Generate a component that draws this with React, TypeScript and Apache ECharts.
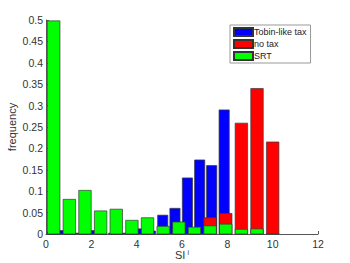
import React, { useEffect, useRef } from "react";
import * as echarts from "echarts";

// Bin centres (x)
const tobinCenters = [0.29, 0.83, 1.37, 1.91, 2.45, 2.99, 3.53, 4.07, 4.61, 5.15, 5.69, 6.24, 6.78, 7.31, 7.86];
const tobinValues = [0.005, 0.008, 0.002, 0.008, 0.005, 0.002, 0.002, 0.012, 0.007, 0.044, 0.06, 0.131, 0.173, 0.16, 0.29];

const srtCenters = [0.34, 1.03, 1.72, 2.41, 3.1, 3.79, 4.48, 5.17, 5.86, 6.55, 7.24, 7.93, 8.62, 9.31, 10.0];
const noTaxValues = [0, 0, 0, 0, 0, 0, 0, 0, 0, 0, 0.038, 0.048, 0.259, 0.34, 0.215];
const srtValues = [0.498, 0.081, 0.102, 0.054, 0.058, 0.032, 0.038, 0.018, 0.028, 0.016, 0.019, 0.023, 0.011, 0.012, 0.001];

const seriesNames = ["Tobin-like tax", "no tax", "SRT"];
const seriesColors = ["#0000ff", "#ff0000", "#00ff00"];

const xTicks = { min: 0, max: 12, interval: 2 };
const yTicks = { min: 0, max: 0.5, interval: 0.05 };

function makeSeries(name: string, color: string, centers: number[], values: number[], barW: number, z: number) {
  return {
    name,
    type: "custom",
    z,
    itemStyle: { color, borderColor: "#333", borderWidth: 0.7 },
    data: centers.map((c, i) => [c, values[i]]),
    renderItem: (params: any, api: any) => {
      const x = api.value(0);
      const y = api.value(1);
      const p0 = api.coord([x - barW / 2, y]);
      const p1 = api.coord([x + barW / 2, 0]);
      return {
        type: "rect",
        shape: { x: p0[0], y: p0[1], width: p1[0] - p0[0], height: p1[1] - p0[1] },
        style: { fill: color, stroke: "#3a3a3a", lineWidth: 0.7 },
      };
    },
  };
}

export default function App() {
  const ref = useRef<HTMLDivElement>(null);
  useEffect(() => {
    if (!ref.current) return;
    const chart = echarts.init(ref.current, null, { renderer: "svg" });
    const font = "Liberation Sans, Arial, sans-serif";
    chart.setOption({
      animation: false,
      backgroundColor: "#fff",
      textStyle: { fontFamily: font },
      grid: { left: 46, right: 32, top: 20, bottom: 29, containLabel: false, outerBoundsMode: "none" },
      legend: {
        orient: "vertical",
        left: 230,
        top: 25,
        data: seriesNames,
        icon: "rect",
        itemWidth: 19,
        itemHeight: 8,
        itemGap: 2,
        padding: [2, 4, 2, 3],
        borderColor: "#999",
        borderWidth: 1,
        backgroundColor: "#fff",
        textStyle: { fontSize: 9, color: "#222", fontFamily: font, padding: [0, 0, 0, -4] },
      },
      xAxis: {
        type: "value",
        min: xTicks.min,
        max: xTicks.max,
        interval: xTicks.interval,
        name: "{a|SI}{b|i}",
        nameLocation: "middle",
        nameGap: 15,
        nameMoveOverlap: false,
        nameTextStyle: {
          rich: {
            a: { fontSize: 11, color: "#333", fontFamily: font, lineHeight: 12 },
            b: { fontSize: 7, color: "#333", fontFamily: font, verticalAlign: "top", lineHeight: 8, padding: [0, 0, 0, 2] },
          },
        },
        axisLine: { lineStyle: { color: "#555", width: 1 } },
        axisTick: { inside: true, length: 3, lineStyle: { color: "#555" } },
        axisLabel: { fontSize: 10.5, color: "#333", margin: 4 },
        splitLine: { show: false },
      },
      yAxis: {
        type: "value",
        min: yTicks.min,
        max: yTicks.max,
        interval: yTicks.interval,
        name: "frequency",
        nameLocation: "middle",
        nameGap: 29,
        nameMoveOverlap: false,
        nameTextStyle: { fontSize: 11, color: "#333" },
        axisLine: { show: true, lineStyle: { color: "#555", width: 1 } },
        axisTick: { show: true, inside: true, length: 3, lineStyle: { color: "#555" } },
        axisLabel: {
          fontSize: 10.5,
          color: "#333",
          margin: 3,
          formatter: (v: number) => String(+v.toFixed(2)),
        },
        splitLine: { show: false },
      },
      series: [
        makeSeries(seriesNames[0], seriesColors[0], tobinCenters, tobinValues, 0.45, 1),
        makeSeries(seriesNames[1], seriesColors[1], srtCenters, noTaxValues, 0.55, 2),
        makeSeries(seriesNames[2], seriesColors[2], srtCenters, srtValues, 0.55, 3),
      ],
    });
    return () => chart.dispose();
  }, []);
  return (
    <div
      ref={ref}
      style={{ position: "fixed", left: 0, top: 0, width: 350, height: 263, background: "#fff" }}
    />
  );
}
